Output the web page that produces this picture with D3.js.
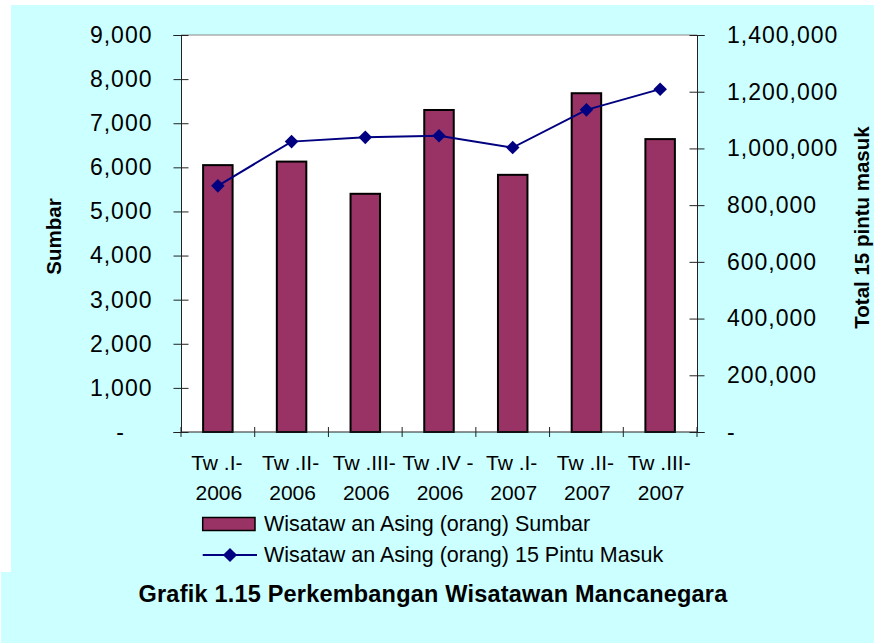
<!DOCTYPE html>
<html lang="id">

<head>
    <meta charset="UTF-8">
    <script src="https://cdn.jsdelivr.net/npm/d3@7"></script>
    <title>Grafik 1.15</title>
    <style>
        body {
            margin: 0;
            background-color: #ffffff;
            font-family: Arial, "Liberation Sans", sans-serif;
        }

        svg text {
            font-family: Arial, "Liberation Sans", sans-serif;
            fill: #000;
        }
    </style>
</head>

<body>
    <div id="chart"></div>

    <script>
        // Data
        const quarters = ["Tw .I-", "Tw .II-", "Tw .III-", "Tw .IV -", "Tw .I-", "Tw .II-", "Tw .III-"];
        const years = ["2006", "2006", "2006", "2006", "2007", "2007", "2007"];
        const sumbarValues = [6050, 6130, 5400, 7300, 5830, 7680, 6640];
        const pintuValues = [868000, 1024000, 1039000, 1045000, 1003000, 1136000, 1209000];
        const leftTicks = [0, 1000, 2000, 3000, 4000, 5000, 6000, 7000, 8000, 9000];
        const rightTicks = [0, 200000, 400000, 600000, 800000, 1000000, 1200000, 1400000];
        const legendLabels = ["Wisataw an Asing (orang) Sumbar", "Wisataw an Asing (orang) 15 Pintu Masuk"];
        const leftTitle = "Sumbar";
        const rightTitle = "Total 15 pintu masuk";
        const caption = "Grafik 1.15 Perkembangan Wisatawan Mancanegara";

        const width = 874, height = 643;
        const plot = { left: 181, right: 697, top: 35, bottom: 432 };
        const barColor = "#993366";
        const lineColor = "#000080";

        const svg = d3.select("#chart").append("svg")
            .attr("width", width)
            .attr("height", height);

        // cyan backgrounds
        svg.append("rect").attr("x", 11).attr("y", 5).attr("width", width - 11).attr("height", 567)
            .attr("fill", "#ccffff");
        svg.append("rect").attr("x", 1).attr("y", 572).attr("width", width - 1).attr("height", height - 572)
            .attr("fill", "#ccffff");

        // plot area
        svg.append("rect")
            .attr("x", plot.left).attr("y", plot.top)
            .attr("width", plot.right - plot.left).attr("height", plot.bottom - plot.top)
            .attr("fill", "#fff");
        svg.append("line")
            .attr("x1", plot.left).attr("x2", plot.right)
            .attr("y1", plot.top).attr("y2", plot.top)
            .attr("stroke", "#888").attr("stroke-width", 1);

        const cats = quarters.map((q, i) => i);
        const x = d3.scaleBand().domain(cats).range([plot.left, plot.right]).padding(0);
        const bw = x.bandwidth();
        const yL = d3.scaleLinear().domain([0, 9000]).range([plot.bottom, plot.top]);
        const yR = d3.scaleLinear().domain([0, 1400000]).range([plot.bottom, plot.top]);

        const fmt = d => d === 0 ? "-" : d3.format(",")(d);

        // bars
        svg.append("g").selectAll("rect")
            .data(sumbarValues)
            .enter()
            .append("rect")
            .attr("x", (d, i) => x(i) + bw * 0.3)
            .attr("y", d => yL(d))
            .attr("width", bw * 0.4)
            .attr("height", d => yL(0) - yL(d))
            .attr("fill", barColor)
            .attr("stroke", "#000")
            .attr("stroke-width", 2);

        // left axis
        const gL = svg.append("g")
            .attr("transform", `translate(${plot.left},0)`)
            .call(d3.axisLeft(yL).tickValues(leftTicks).tickFormat(fmt).tickSize(7.5).tickPadding(21));
        gL.select(".domain").attr("stroke", "#222");
        gL.selectAll(".tick line").attr("x1", 7.5).attr("stroke", "#222");
        gL.selectAll(".tick text")
            .attr("font-size", 23).attr("letter-spacing", 1).attr("fill", "#000");
        gL.selectAll(".tick text").filter(d => d === 0).attr("x", -56);

        // right axis
        const gR = svg.append("g")
            .attr("transform", `translate(${plot.right},0)`)
            .call(d3.axisRight(yR).tickValues(rightTicks).tickFormat(fmt).tickSize(7.5).tickPadding(22.5));
        gR.select(".domain").attr("stroke", "#222");
        gR.selectAll(".tick line").attr("x1", -7.5).attr("stroke", "#222");
        gR.selectAll(".tick text")
            .attr("font-size", 23).attr("letter-spacing", 1).attr("fill", "#000");

        // bottom axis with ticks on category boundaries
        svg.append("line")
            .attr("x1", plot.left).attr("x2", plot.right)
            .attr("y1", plot.bottom).attr("y2", plot.bottom)
            .attr("stroke", "#222");
        const bounds = cats.map(i => x(i)).concat([plot.right]);
        svg.append("g").selectAll("line")
            .data(bounds)
            .enter()
            .append("line")
            .attr("x1", d => d).attr("x2", d => d)
            .attr("y1", plot.bottom - 5).attr("y2", plot.bottom + 5)
            .attr("stroke", "#222");

        const xl = svg.append("g").selectAll("text")
            .data(cats)
            .enter()
            .append("text")
            .attr("text-anchor", "middle")
            .attr("font-size", 21);
        xl.append("tspan")
            .attr("x", i => x(i) + bw / 2 - 1).attr("y", 470)
            .text(i => quarters[i]);
        xl.append("tspan")
            .attr("x", i => x(i) + bw / 2 + 1).attr("y", 499.5)
            .text(i => years[i]);

        // line series on right axis
        const line = d3.line()
            .x((d, i) => x(i) + bw / 2)
            .y(d => yR(d));
        svg.append("path")
            .datum(pintuValues)
            .attr("d", line)
            .attr("fill", "none")
            .attr("stroke", lineColor)
            .attr("stroke-width", 2);

        const diamond = d3.symbol().type(d3.symbolSquare).size(92);
        svg.append("g").selectAll("path")
            .data(pintuValues)
            .enter()
            .append("path")
            .attr("d", diamond)
            .attr("transform", (d, i) => `translate(${x(i) + bw / 2},${yR(d)}) rotate(45)`)
            .attr("fill", lineColor);

        // axis titles
        svg.append("text")
            .attr("transform", "translate(61,236.5) rotate(-90)")
            .attr("text-anchor", "middle")
            .attr("font-size", 20.5).attr("font-weight", "bold")
            .text(leftTitle);
        svg.append("text")
            .attr("transform", "translate(868.5,227.5) rotate(-90)")
            .attr("text-anchor", "middle")
            .attr("font-size", 20.5).attr("font-weight", "bold")
            .text(rightTitle);

        // legend
        const legend = svg.append("g");
        legend.append("rect")
            .attr("x", 202.7).attr("y", 517.5).attr("width", 52.3).attr("height", 13)
            .attr("fill", barColor).attr("stroke", "#000").attr("stroke-width", 1.5);
        legend.append("text")
            .attr("x", 264).attr("y", 530.7)
            .attr("font-size", 21.5)
            .text(legendLabels[0]);
        legend.append("line")
            .attr("x1", 202.7).attr("x2", 257).attr("y1", 555).attr("y2", 555)
            .attr("stroke", lineColor).attr("stroke-width", 2);
        legend.append("path")
            .attr("d", d3.symbol().type(d3.symbolSquare).size(100))
            .attr("transform", "translate(230,555) rotate(45)")
            .attr("fill", lineColor);
        legend.append("text")
            .attr("x", 264).attr("y", 562.3)
            .attr("font-size", 21.5)
            .text(legendLabels[1]);

        // caption
        svg.append("text")
            .attr("x", 433).attr("y", 601.7)
            .attr("text-anchor", "middle")
            .attr("font-size", 23.5).attr("font-weight", "bold").attr("letter-spacing", 0.2)
            .text(caption);
    </script>
</body>

</html>
